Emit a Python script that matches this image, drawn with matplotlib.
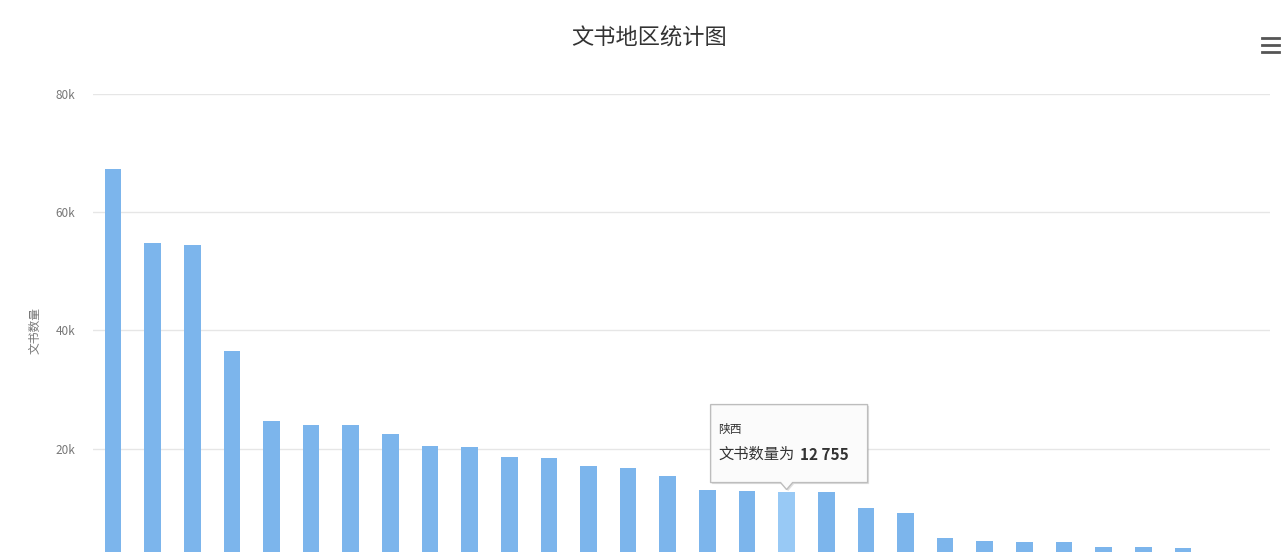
import matplotlib
matplotlib.use('Agg')
import matplotlib.pyplot as plt
from matplotlib.patches import Polygon
from matplotlib.lines import Line2D
from matplotlib.transforms import IdentityTransform

plt.rcParams['font.family'] = ['Noto Sans CJK SC', 'DejaVu Sans']

# Document counts per region (sorted)
counts = [67300, 54800, 54400, 36500, 24700, 24000, 24000, 22500, 20500, 20300,
          18600, 18400, 17100, 16700, 15400, 13000, 12800, 12755, 12700, 10000,
          9100, 4900, 4400, 4200, 4200, 3400, 3400, 3200]
hover_index = 17
hover_name = '陕西'
hover_value = 12755
y_ticks = [20000, 40000, 60000, 80000]
y_tick_labels = ['20k', '40k', '60k', '80k']

W, H = 1282, 552
fig = plt.figure(figsize=(W / 100, H / 100), dpi=100)
fig.patch.set_facecolor('white')

left, right, top = 93.2, 1270, 94
ax = fig.add_axes([left / W, 0, (right - left) / W, 1 - top / H])
ax.set_facecolor('white')

colors = ['#7cb5ec'] * len(counts)
colors[hover_index] = '#98c9f5'
ax.bar(range(len(counts)), counts, width=0.42, color=colors, zorder=3)

ax.set_xlim(-0.5, 29.2)
ax.set_ylim(2536, 80000)
ax.set_yticks(y_ticks)
ax.set_yticklabels(y_tick_labels)
ax.tick_params(axis='y', length=0, pad=13, labelsize=8.5, labelcolor='#777777')
ax.set_xticks([])
ax.grid(axis='y', color='#e6e6e6', linewidth=1, zorder=0)
for s in ax.spines.values():
    s.set_visible(False)

fig.text(35 / W, 1 - 330 / H, '文书数量', rotation=90, ha='center', va='center',
         fontsize=8.5, color='#777777')
fig.text(649 / W, 1 - 38 / H, '文书地区统计图', ha='center', va='center',
         fontsize=16, color='#333333')

# hamburger menu icon
for yy in (38, 45, 52):
    fig.add_artist(Line2D([1262 / W, 1279 / W], [1 - yy / H, 1 - yy / H],
                          color='#555555', linewidth=2))

# tooltip anchored at hovered bar top
px, py = ax.transData.transform((hover_index, hover_value))
bl, br, bt, bb = px - 76, px + 81, py + 87, py + 9
shape = [(bl, bb), (px - 6, bb), (px, py + 2), (px + 6, bb), (br, bb), (br, bt), (bl, bt)]
shadow = Polygon([(x + 1.5, y - 1.5) for x, y in shape], closed=True, transform=IdentityTransform(),
                 facecolor='#000000', alpha=0.12, edgecolor='none', zorder=9)
box = Polygon(shape, closed=True, transform=IdentityTransform(),
              facecolor='#fbfbfb', edgecolor='#bdbdbd', linewidth=1, zorder=10)
fig.add_artist(shadow)
fig.add_artist(box)
fig.text((px - 68) / W, (py + 62) / H, hover_name, ha='left', va='center',
         fontsize=8.5, color='#333333', zorder=11)
fig.text((px - 68) / W, (py + 37) / H, '文书数量为', ha='left', va='center',
         fontsize=11, color='#333333', zorder=11)
fig.text((px + 13) / W, (py + 37) / H, f'{hover_value:,}'.replace(',', ' '), ha='left', va='center',
         fontsize=11, fontweight='bold', color='#333333', zorder=11)

fig.savefig('out.png', dpi=100)
